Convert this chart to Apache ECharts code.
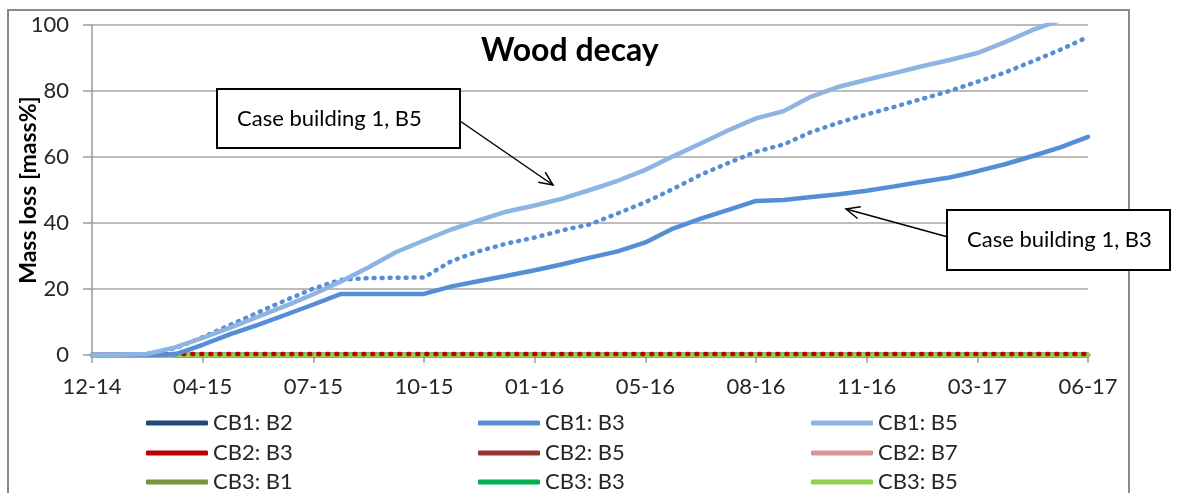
<!DOCTYPE html>
<html>
<head>
<meta charset="utf-8">
<title>Wood decay</title>
<script src="https://cdn.jsdelivr.net/npm/echarts@6/dist/echarts.min.js"></script>
<style>
  html, body { margin: 0; padding: 0; background: #fff; }
  #chart { width: 1187px; height: 493px; }
</style>
</head>
<body>
<div id="chart"></div>
<script>
// x = days since 25 Dec 2014, one sample every 25 days
var days = [0, 25, 50, 75, 100, 125, 150, 175, 200, 225, 250, 275, 300, 325, 350, 375, 400, 425, 450,
  475, 500, 525, 550, 575, 600, 625, 650, 675, 700, 725, 750, 775, 800, 825, 850, 875, 900]
// tick labels, one per 100 days
var xLabels = ['12-14', '04-15', '07-15', '10-15', '01-16', '05-16', '08-16', '11-16', '03-17', '06-17']

// mass loss [mass%]
var cb1b3 = [0, 0, 0, 0.2, 3.1, 6.3, 9.1, 12.2, 15.3, 18.5, 18.5, 18.5, 18.5, 20.8, 22.4, 24.0, 25.7, 27.5, 29.5,
  31.4, 34.1, 38.3, 41.3, 44.0, 46.7, 47.0, 47.9, 48.7, 49.8, 51.1, 52.5, 53.8, 55.7, 57.8, 60.3, 62.9, 66.1]
var cb1b5 = [0, 0.1, 0.3, 2.3, 5.2, 8.3, 11.6, 14.9, 18.4, 22.3, 26.6, 31.2, 34.7, 38.1, 40.9, 43.5, 45.3, 47.4, 50,
  52.8, 56.1, 60.2, 64.1, 68.1, 71.7, 73.9, 78.3, 81.3, 83.4, 85.4, 87.5, 89.4, 91.5, 94.8, 98.5, 101.5, 104.5]
// dotted blue line (not in the legend)
var cb1dot = [0, 0.1, 0.3, 2.0, 5.4, 9.1, 12.9, 16.6, 20.1, 22.8, 23.3, 23.4, 23.5, 28.5, 31.5, 33.8, 35.6, 37.8, 39.6,
  42.9, 46.3, 50.3, 54.6, 58.2, 61.6, 63.8, 67.6, 70.4, 72.9, 75.2, 77.6, 80.0, 82.8, 85.6, 89.0, 92.5, 96.4]
var cb1b2 = [0, 0, 0, 0, 0, 0, 0, 0, 0, 0, 0, 0, 0, 0, 0, 0, 0, 0, 0,
  0, 0, 0, 0, 0, 0, 0, 0, 0, 0, 0, 0, 0, 0, 0, 0, 0, 0]
var cb2b3 = [null, null, 0.3, 0.3, 0.3, 0.3, 0.3, 0.3, 0.3, 0.3, 0.3, 0.3, 0.3, 0.3, 0.3, 0.3, 0.3, 0.3, 0.3,
  0.3, 0.3, 0.3, 0.3, 0.3, 0.3, 0.3, 0.3, 0.3, 0.3, 0.3, 0.3, 0.3, 0.3, 0.3, 0.3, 0.3, 0.3]
var cb2b5 = [0, 0, 0, 0, 0, 0, 0, 0, 0, 0, 0, 0, 0, 0, 0, 0, 0, 0, 0,
  0, 0, 0, 0, 0, 0, 0, 0, 0, 0, 0, 0, 0, 0, 0, 0, 0, 0]
var cb2b7 = [0, 0, 0, 0, 0, 0, 0, 0, 0, 0, 0, 0, 0, 0, 0, 0, 0, 0, 0,
  0, 0, 0, 0, 0, 0, 0, 0, 0, 0, 0, 0, 0, 0, 0, 0, 0, 0]
var cb3b1 = [null, null, null, 0, 0, 0, 0, 0, 0, 0, 0, 0, 0, 0, 0, 0, 0, 0, 0,
  0, 0, 0, 0, 0, 0, 0, 0, 0, 0, 0, 0, 0, 0, 0, 0, 0, 0]
var cb3b3 = [null, null, null, 0, 0, 0, 0, 0, 0, 0, 0, 0, 0, 0, 0, 0, 0, 0, 0,
  0, 0, 0, 0, 0, 0, 0, 0, 0, 0, 0, 0, 0, 0, 0, 0, 0, 0]
var cb3b5 = [null, null, null, 0, 0, 0, 0, 0, 0, 0, 0, 0, 0, 0, 0, 0, 0, 0, 0,
  0, 0, 0, 0, 0, 0, 0, 0, 0, 0, 0, 0, 0, 0, 0, 0, 0, 0]

var font = 'Lato, "Open Sans", sans-serif'

function pairs(vals) {
  return days.map(function (d, i) { return [d, vals[i]] })
}

function mkLine(name, vals, color, type, clip) {
  return {
    name: name,
    type: 'line',
    data: pairs(vals),
    showSymbol: false,
    clip: !!clip,
    animation: false,
    itemStyle: { color: color },
    lineStyle: { color: color, width: 4.5, type: type || 'solid', cap: 'round' }
  }
}

// arrow: line plus open head at the end point
function arrow(x1, y1, x2, y2) {
  let a = Math.atan2(y2 - y1, x2 - x1)
  let len = 15, sp = 0.42
  let h1 = [x2 - len * Math.cos(a - sp), y2 - len * Math.sin(a - sp)]
  let h2 = [x2 - len * Math.cos(a + sp), y2 - len * Math.sin(a + sp)]
  return [
    { type: 'line', shape: { x1: x1, y1: y1, x2: x2, y2: y2 }, style: { stroke: '#000', lineWidth: 1.5 }, z: 20 },
    { type: 'polyline', shape: { points: [h1, [x2, y2], h2] }, style: { stroke: '#000', lineWidth: 1.5, fill: null }, z: 20 }
  ]
}

function noteBox(x, y, w, h, text) {
  return [
    { type: 'rect', shape: { x: x, y: y, width: w, height: h }, style: { fill: '#fff', stroke: '#000', lineWidth: 2 }, z: 20 },
    { type: 'text', x: x + 20, y: y + h / 2, style: { text: text, font: '22px ' + font, fill: '#000', textVerticalAlign: 'middle' }, z: 21 }
  ]
}

// one legend per entry so the 3x3 grid can run past the bottom edge like the original
function legendItem(left, top, name) {
  return {
    left: left,
    top: top,
    data: [name],
    icon: 'roundRect',
    itemWidth: 62,
    itemHeight: 5,
    textStyle: { fontFamily: font, fontSize: 22, color: '#262626' }
  }
}

let chart = echarts.init(document.getElementById('chart'))

let graphics = [
  { type: 'rect', shape: { x: 8, y: 10, width: 1121, height: 500 }, style: { fill: null, stroke: '#8a8a8a', lineWidth: 2 }, z: -1 }
]
graphics = graphics
  .concat(noteBox(217, 89, 243, 59, 'Case building 1, B5'))
  .concat(arrow(460, 121, 553, 185))
  .concat(noteBox(947, 210, 223, 60, 'Case building 1, B3'))
  .concat(arrow(948, 237, 846, 209))

let legCols = [141, 473, 806]
let legRows = [407, 437, 466]
let legNames = [
  ['CB1: B2', 'CB1: B3', 'CB1: B5'],
  ['CB2: B3', 'CB2: B5', 'CB2: B7'],
  ['CB3: B1', 'CB3: B3', 'CB3: B5']
]
let legends = []
legNames.forEach(function (row, r) {
  row.forEach(function (name, c) {
    legends.push(legendItem(legCols[c], legRows[r], name))
  })
})

let options = {
  backgroundColor: '#fff',
  animation: false,
  title: {
    text: 'Wood decay',
    left: 476,
    top: 30,
    textStyle: { fontFamily: font, fontSize: 32, fontWeight: 'bold', color: '#000' }
  },
  grid: { left: 92, top: 25, right: 99, bottom: 138 },
  legend: legends,
  xAxis: {
    type: 'value',
    min: 0,
    max: 900,
    interval: 100,
    axisLine: { lineStyle: { color: '#9a9a9a', width: 1.5 } },
    axisTick: { length: 8, lineStyle: { color: '#9a9a9a', width: 1.5 } },
    splitLine: { show: false },
    axisLabel: {
      margin: 21,
      fontFamily: font,
      fontSize: 22,
      color: '#262626',
      formatter: function (v) { return xLabels[Math.round(v / 100)] }
    }
  },
  yAxis: {
    type: 'value',
    min: 0,
    max: 100,
    interval: 20,
    name: 'Mass loss [mass%]',
    nameLocation: 'middle',
    nameGap: 52,
    nameMoveOverlap: false,
    nameTextStyle: { fontFamily: font, fontSize: 23, fontWeight: 'bold', color: '#000' },
    axisLine: { show: true, lineStyle: { color: '#9a9a9a', width: 1.5 } },
    axisTick: { show: true, length: 9, lineStyle: { color: '#9a9a9a', width: 1.5 } },
    splitLine: { lineStyle: { color: '#a6a6a6', width: 1.5 } },
    axisLabel: { margin: 23, fontFamily: font, fontSize: 22, color: '#262626' }
  },
  series: [
    mkLine('CB1: B2', cb1b2, '#1F497D'),
    mkLine('CB2: B5', cb2b5, '#953735'),
    mkLine('CB2: B7', cb2b7, '#D99694'),
    mkLine('CB3: B1', cb3b1, '#77933C'),
    mkLine('CB3: B3', cb3b3, '#00B050'),
    mkLine('CB3: B5', cb3b5, '#92D050'),
    mkLine('CB2: B3', cb2b3, '#C00000', [1, 8]),
    mkLine('CB1: B3', cb1b3, '#558ED5'),
    mkLine('CB1: B4', cb1dot, '#558ED5', [1, 7]),
    mkLine('CB1: B5', cb1b5, '#8EB4E3', 'solid', true)
  ],
  graphic: graphics
}

chart.setOption(options)
</script>
</body>
</html>
